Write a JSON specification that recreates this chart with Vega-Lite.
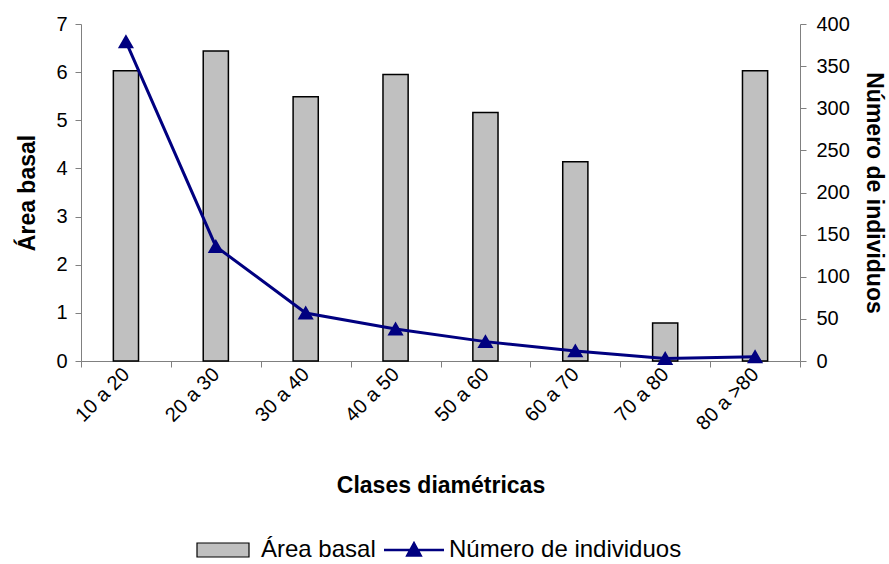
{
  "$schema": "https://vega.github.io/schema/vega-lite/v6.json",
  "autosize": {"type": "none"},
  "padding": {"left": 81, "top": 24, "right": 89, "bottom": 203},
  "width": 719,
  "height": 337,
  "background": "white",
  "config": {
    "view": {"stroke": null},
    "font": "Liberation Sans",
    "axis": {
      "labelFont": "Liberation Sans",
      "labelFontSize": 20,
      "labelColor": "black",
      "titleFont": "Liberation Sans",
      "titleFontSize": 23,
      "titleFontWeight": "bold",
      "titleColor": "black",
      "domainColor": "#808080",
      "tickColor": "#808080",
      "grid": false
    },
    "legend": {"labelFont": "Liberation Sans", "labelFontSize": 24, "labelColor": "black", "labelLimit": 500}
  },
  "data": {
    "values": [
      {"clase": "10 a 20", "area": 6.03, "num": 379},
      {"clase": "20 a 30", "area": 6.44, "num": 136},
      {"clase": "30 a 40", "area": 5.49, "num": 57},
      {"clase": "40 a 50", "area": 5.95, "num": 38},
      {"clase": "50 a 60", "area": 5.16, "num": 23},
      {"clase": "60 a 70", "area": 4.14, "num": 12},
      {"clase": "70 a 80", "area": 0.79, "num": 3},
      {"clase": "80 a >80", "area": 6.03, "num": 5}
    ]
  },
  "encoding": {
    "x": {
      "field": "clase",
      "type": "nominal",
      "sort": null,
      "scale": {"paddingInner": 0, "paddingOuter": 0},
      "axis": {
        "title": "Clases diamétricas",
        "labelAngle": -45,
        "labelAlign": "right",
        "labelBaseline": "middle",
        "tickBand": "extent",
        "tickSize": 6,
        "labelPadding": 4,
        "titlePadding": 41
      }
    }
  },
  "layer": [
    {
      "mark": {"type": "bar", "width": {"band": 0.28}, "stroke": "black", "strokeWidth": 1.5},
      "encoding": {
        "y": {
          "field": "area",
          "type": "quantitative",
          "scale": {"domain": [0, 7]},
          "axis": {"title": "Área basal", "values": [0, 1, 2, 3, 4, 5, 6, 7], "tickSize": 6, "labelPadding": 8, "titlePadding": 16}
        },
        "fill": {
          "datum": "Área basal",
          "scale": {"range": ["#c0c0c0"]},
          "legend": {
            "title": null,
            "orient": "none",
            "legendX": 130,
            "legendY": 514,
            "symbolType": "M-2.6,-0.7H2.6V0.7H-2.6Z",
            "symbolSize": 400,
            "symbolStrokeColor": "black",
            "symbolStrokeWidth": 1.2,
            "labelOffset": 26
          }
        }
      }
    },
    {
      "mark": {
        "type": "line",
        "strokeWidth": 3,
        "point": {"shape": "triangle-up", "size": 160, "filled": true, "color": "#000080"}
      },
      "encoding": {
        "y": {
          "field": "num",
          "type": "quantitative",
          "scale": {"domain": [0, 400]},
          "axis": {"title": "Número de individuos", "orient": "right", "values": [0, 50, 100, 150, 200, 250, 300, 350, 400], "tickSize": 6, "labelPadding": 10, "titlePadding": 12}
        },
        "stroke": {
          "datum": "Número de individuos",
          "scale": {"range": ["#000080"]},
          "legend": {
            "title": null,
            "orient": "none",
            "legendX": 321,
            "legendY": 514,
            "symbolType": "M-3,0H3M-0.66,0.54L0,-0.66L0.66,0.54Z",
            "symbolSize": 400,
            "symbolFillColor": "#000080",
            "symbolStrokeColor": "#000080",
            "symbolStrokeWidth": 2.5,
            "labelOffset": 23
          }
        }
      }
    }
  ],
  "resolve": {"scale": {"y": "independent"}}
}
